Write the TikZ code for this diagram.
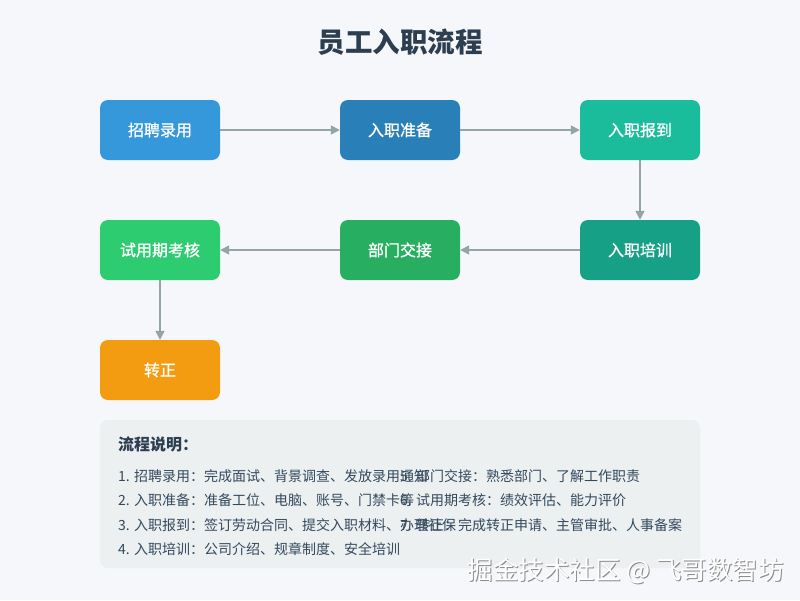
\documentclass[tikz,border=0pt]{standalone}
\usepackage{fontspec}
\setmainfont{Noto Sans CJK SC}
\newfontfamily\stepfont[FakeBold=1.1]{Noto Sans CJK SC}
\usetikzlibrary{arrows.meta,positioning}
\definecolor{pagebg}{HTML}{F5F7FA}
\definecolor{notebg}{HTML}{ECF0F1}
\definecolor{titlecol}{HTML}{2C3E50}
\definecolor{textcol}{HTML}{34495E}
\definecolor{linecol}{HTML}{95A5A6}
\definecolor{zhaopincol}{HTML}{3498DB}
\definecolor{zhunbeicol}{HTML}{2980B9}
\definecolor{baodaocol}{HTML}{1ABC9C}
\definecolor{peixuncol}{HTML}{16A085}
\definecolor{jiaojiecol}{HTML}{27AE60}
\definecolor{kaohecol}{HTML}{2ECC71}
\definecolor{zhuanzhengcol}{HTML}{F39C12}

\begin{document}
\begin{tikzpicture}[x=1pt,y=-1pt,
  stepbox/.style={rounded corners=8pt, minimum width=120pt, minimum height=60pt,
    inner sep=0pt, text=white, font=\stepfont\fontsize{16}{18}\selectfont},
  flow/.style={draw=linecol, line width=1.6pt, -{Triangle[length=9pt,width=9pt]}},
  item/.style={anchor=west, inner sep=0pt, text=textcol, font=\fontsize{14}{16}\selectfont}]
\useasboundingbox[fill=pagebg] (0,0) rectangle (800,600);
%% title
\node[text=titlecol, font=\fontsize{27.5}{30}\selectfont\bfseries] (title) at (400,42) {员工入职流程};
%% steps
\node[stepbox, fill=zhaopincol] (zhaopin) at (160,130) {招聘录用};
\node[stepbox, fill=zhunbeicol] (zhunbei) at (400,130) {入职准备};
\node[stepbox, fill=baodaocol] (baodao) at (640,130) {入职报到};
\node[stepbox, fill=peixuncol] (peixun) at (640,250) {入职培训};
\node[stepbox, fill=jiaojiecol] (jiaojie) at (400,250) {部门交接};
\node[stepbox, fill=kaohecol] (kaohe) at (160,250) {试用期考核};
\node[stepbox, fill=zhuanzhengcol] (zhuanzheng) at (160,370) {转正};
%% arrows
\draw[flow] (zhaopin) -- (zhunbei);
\draw[flow] (zhunbei) -- (baodao);
\draw[flow] (baodao) -- (peixun);
\draw[flow] (peixun) -- (jiaojie);
\draw[flow] (jiaojie) -- (kaohe);
\draw[flow] (kaohe) -- (zhuanzheng);
%% notes
\fill[notebg, rounded corners=8pt] (100,420) rectangle (700,568);
\node[anchor=west, inner sep=0pt, text=titlecol, font=\fontsize{16}{18}\selectfont\bfseries] (notehead) at (118,444) {流程说明：};
\node[item] (note1) at (118,476) {1. 招聘录用：完成面试、背景调查、发放录用通知};
\node[item] (note2) at (118,500) {2. 入职准备：准备工位、电脑、账号、门禁卡等};
\node[item] (note3) at (118,525) {3. 入职报到：签订劳动合同、提交入职材料、办理社保};
\node[item] (note4) at (118,549) {4. 入职培训：公司介绍、规章制度、安全培训};
\node[item] (note5) at (400,476) {5. 部门交接：熟悉部门、了解工作职责};
\node[item] (note6) at (400,500) {6. 试用期考核：绩效评估、能力评价};
\node[item] (note7) at (400,525) {7. 转正：完成转正申请、主管审批、人事备案};
%% watermark
\node[anchor=east, inner sep=0pt, text=black!45, font=\fontsize{25.5}{28}\selectfont] at (784.8,571.8) {掘金技术社区 @ 飞哥数智坊};
\node[anchor=east, inner sep=0pt, text=white, font=\fontsize{25.5}{28}\selectfont] (mark) at (784,571) {掘金技术社区 @ 飞哥数智坊};
\end{tikzpicture}
\end{document}
